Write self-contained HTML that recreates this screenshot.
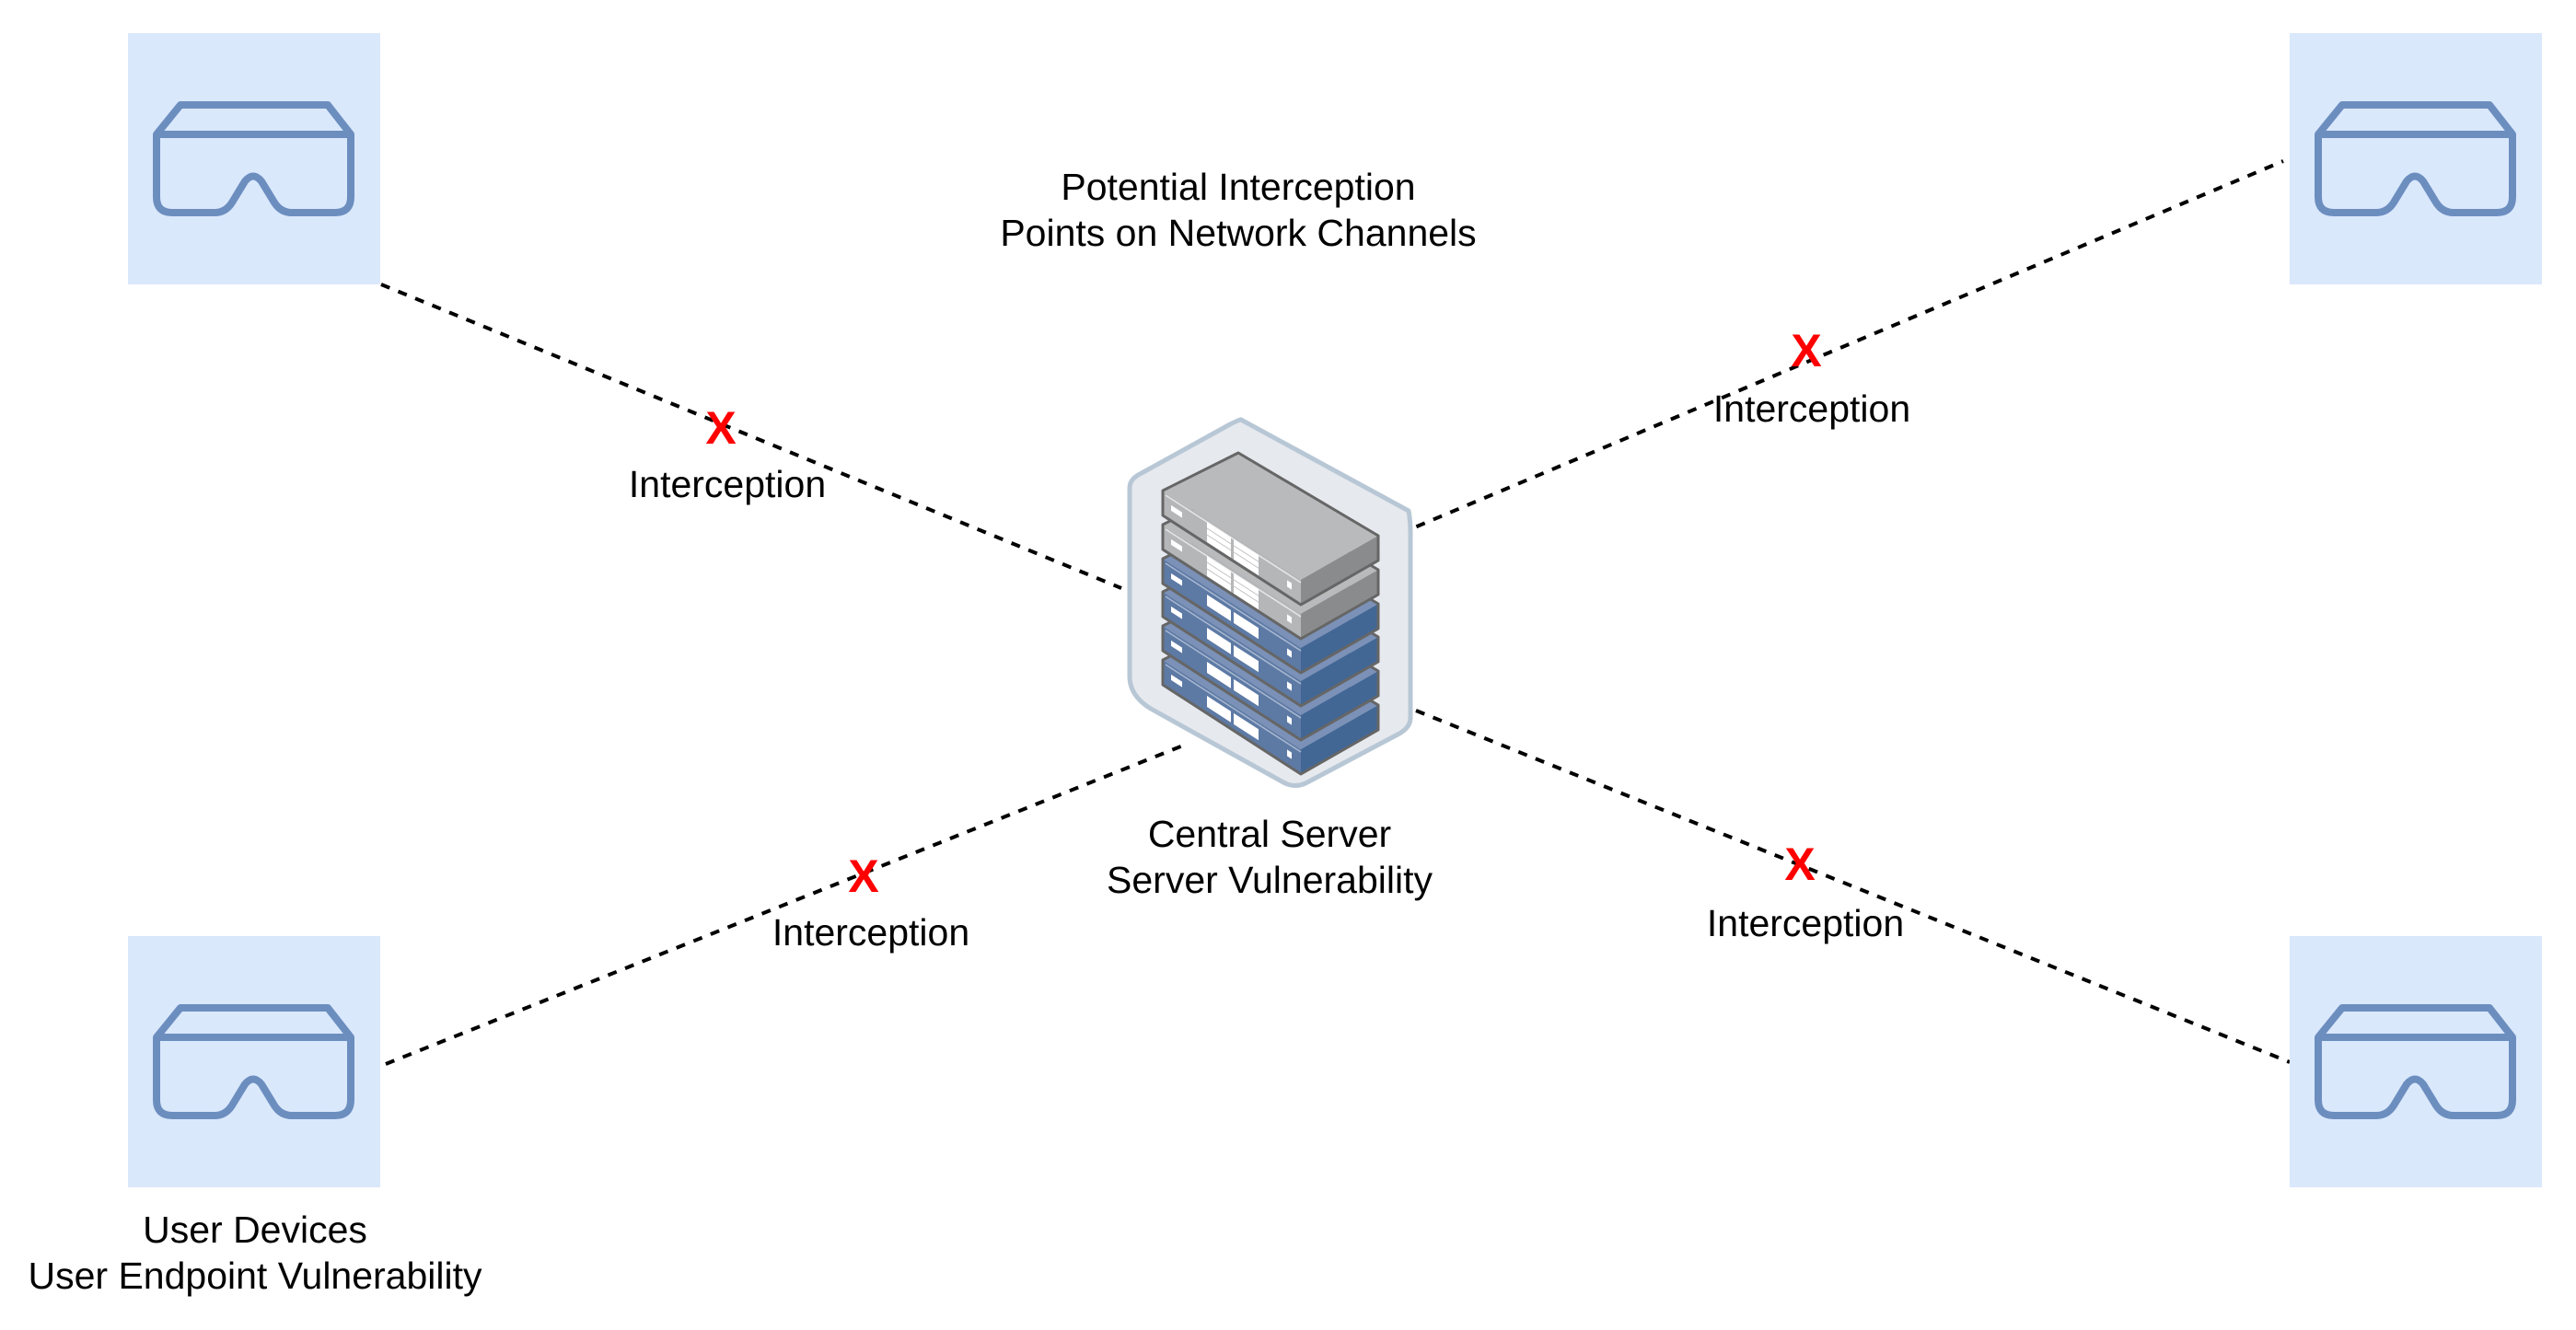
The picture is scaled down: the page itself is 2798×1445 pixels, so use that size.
<!DOCTYPE html>
<html><head><meta charset="utf-8"><style>
html,body{margin:0;padding:0;background:#fff;}
svg{display:block;}
text{font-family:"Liberation Sans",Arial,sans-serif;}
</style></head><body>
<svg width="2798" height="1445" viewBox="0 0 2798 1445" xmlns="http://www.w3.org/2000/svg">
<defs>
<g id="dev">
<rect x="0" y="0" width="274" height="273" fill="#dae8fc"/>
<g fill="none" stroke="#6c8ebf" stroke-width="8" stroke-linejoin="round">
<path d="M31 110 L57 78 L217 78 L242 110 Z"/>
<path d="M31 110 L31 178 Q31 195 48 195 L94 195 Q106 195 113 184 L127 161 Q136 150 145 161 L159 184 Q166 195 178 195 L225 195 Q242 195 242 178 L242 110"/>
</g>
</g>
<g id="slabG">
<polygon points="63,103 145,62 297,152 213,200" fill="#b9babc"/>
<polygon points="63,103 213,200 213,227 63,130" fill="#b5b6b8"/>
<polygon points="213,200 297,152 297,179 213,227" fill="#8a8b8d"/>
<line x1="66" y1="108" x2="213" y2="203" stroke="#e6e6e6" stroke-width="1.5"/>
<g transform="matrix(1,0.647,0,1,63,103)">
<rect x="9" y="10" width="12" height="6" fill="#fff"/>
<rect x="48" y="3" width="26" height="22" fill="#fff"/>
<rect x="77" y="3" width="27" height="22" fill="#fff"/>
<line x1="48" y1="10" x2="104" y2="10" stroke="#bbb" stroke-width="1"/>
<line x1="48" y1="17" x2="104" y2="17" stroke="#bbb" stroke-width="1"/>
<rect x="135" y="10" width="5" height="7" fill="#fff"/>
</g>
<polygon points="63,103 145,62 297,152 297,179 213,227 63,130" fill="none" stroke="#666" stroke-width="3" stroke-linejoin="round"/>
</g>
<g id="slabB">
<polygon points="63,103 145,62 297,152 213,200" fill="#7b91b7"/>
<polygon points="63,103 213,200 213,227 63,130" fill="#5d7aa5"/>
<polygon points="213,200 297,152 297,179 213,227" fill="#426795"/>
<line x1="66" y1="108" x2="213" y2="203" stroke="#a9b8d0" stroke-width="1.5"/>
<g transform="matrix(1,0.647,0,1,63,103)">
<rect x="9" y="10" width="12" height="6" fill="#fff"/>
<rect x="48" y="8" width="26" height="12" fill="#fff"/>
<rect x="77" y="8" width="27" height="12" fill="#fff"/>
<rect x="135" y="10" width="5" height="7" fill="#fff"/>
</g>
<polygon points="63,103 145,62 297,152 297,179 213,227 63,130" fill="none" stroke="#666" stroke-width="3" stroke-linejoin="round"/>
</g>
</defs>

<g stroke="#000" stroke-width="4" stroke-dasharray="10 10" fill="none">
<line x1="414" y1="309" x2="1218" y2="639"/>
<line x1="419" y1="1156" x2="1290" y2="808"/>
<line x1="1520" y1="580" x2="2480" y2="175"/>
<line x1="1538" y1="772" x2="2487" y2="1154"/>
</g>

<use href="#dev" x="139" y="36"/>
<use href="#dev" x="2487" y="36"/>
<use href="#dev" x="139" y="1017"/>
<use href="#dev" x="2487" y="1017"/>

<path d="M1348 456 L1530 555 Q1532 565 1532 580 L1532 780 Q1532 790 1520 797 L1420 850 Q1407 857 1394 850 L1250 770 Q1227 756 1227 735 L1227 530 Q1227 520 1240 514 L1336 461 Q1348 455 1348 456 Z" fill="#e6e9ee" stroke="#b8c7d5" stroke-width="5" stroke-linejoin="round"/>

<g transform="translate(1200,430)">
<use href="#slabB" y="184"/>
<use href="#slabB" y="147"/>
<use href="#slabB" y="110"/>
<use href="#slabB" y="74"/>
<use href="#slabG" y="37"/>
<use href="#slabG" y="0"/>
</g>

<g font-size="41" fill="#000" text-anchor="middle">
<text x="1345" y="217">Potential Interception</text>
<text x="1345" y="267">Points on Network Channels</text>
<text x="1379" y="920">Central Server</text>
<text x="1379" y="970">Server Vulnerability</text>
<text x="277" y="1350">User Devices</text>
<text x="277" y="1400">User Endpoint Vulnerability</text>
<text x="790" y="540">Interception</text>
<text x="946" y="1027">Interception</text>
<text x="1968" y="458">Interception</text>
<text x="1961" y="1017">Interception</text>
</g>
<g font-size="50" font-weight="bold" fill="#ff0000" text-anchor="middle">
<text x="783" y="482">X</text>
<text x="938" y="969">X</text>
<text x="1962" y="398">X</text>
<text x="1955" y="956">X</text>
</g>
</svg>
</body></html>
